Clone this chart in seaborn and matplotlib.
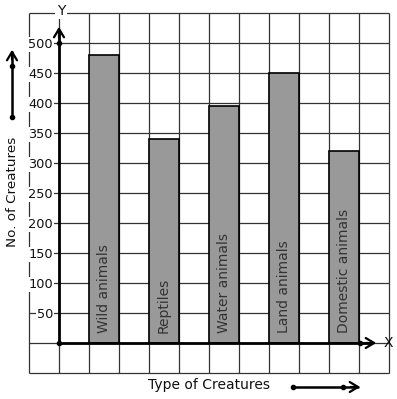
import numpy as np
import pandas as pd
import seaborn as sns
import matplotlib
matplotlib.use("Agg")
import matplotlib.pyplot as plt

# ---- data ----
categories = ["Wild animals", "Reptiles", "Water animals", "Land animals", "Domestic animals"]
values = [480, 340, 395, 450, 320]
ytick_values = [50, 100, 150, 200, 250, 300, 350, 400, 450, 500]
ytick_labels = ["50", "100", "150", "200", "250", "300", "350", "400", "450", "500"]
x_label = "Type of Creatures"
y_label = "No. of Creatures"

sns.set_theme(style="white")
plt.rcParams['font.family'] = ['DejaVu Sans']

W, H = 397, 399
fig = plt.figure(figsize=(W / 100, H / 100), dpi=100)
ax = fig.add_axes([0, 0, 1, 1])

# pixel -> data mapping: cell = 30 px, 1 x-unit per cell, 50 y-units per cell
OX, OY = 59, 343
def px_x(p):
    return (p - OX) / 30.0
def px_y(p):
    return (OY - p) / 30.0 * 50.0

# grid (limited)
gx0, gx1 = px_x(29), px_x(389)
gy0, gy1 = px_y(373), px_y(13)
grid_c = "#333333"
for i in range(13):
    ax.vlines(-1 + i, gy0, gy1, colors=grid_c, lw=0.9, zorder=1)
for j in range(13):
    ax.hlines(-50 + 50 * j, gx0, gx1, colors=grid_c, lw=0.9, zorder=1)

# bars
positions = 1.5 + 2 * np.arange(len(categories))
df = pd.DataFrame({"pos": positions, "val": values, "cat": categories})
sns.barplot(data=df, x="pos", y="val", native_scale=True, width=0.5,
            color="#999999", saturation=1, edgecolor="black", linewidth=1.2,
            ax=ax, zorder=3, errorbar=None)
ax.set_xlim(px_x(0), px_x(W))
ax.set_ylim(px_y(H), px_y(0))

for p, c in zip(positions, categories):
    ax.text(p, px_y(333), c, rotation=90, ha="center", va="bottom",
            fontsize=10, color="#333333", zorder=4)

# y tick labels inside the figure
ax.set_yticks(ytick_values)
ax.set_yticklabels(ytick_labels)
ax.tick_params(axis="y", length=0, pad=-(53 * 0.72), labelsize=9.3, labelcolor="#111111")
for lab in ax.get_yticklabels():
    lab.set_horizontalalignment("right")
    lab.set_bbox(dict(facecolor="white", edgecolor="none", pad=0.5))
ax.set_xticks([])
ax.set_axisbelow(False)
for s in ax.spines.values():
    s.set_visible(False)
ax.set_xlabel("")
ax.set_ylabel("")

# axes with arrows
ax.plot([0, 0], [0, px_y(30)], color="black", lw=2, zorder=5, solid_capstyle="butt")
ax.annotate("", xy=(0, px_y(24)), xytext=(0, px_y(40)),
            arrowprops=dict(arrowstyle="->,head_length=0.5,head_width=0.3", lw=1.6, color="black"),
            zorder=6)
ax.plot([0, px_x(372)], [0, 0], color="black", lw=2, zorder=5, solid_capstyle="butt")
ax.annotate("", xy=(px_x(379), 0), xytext=(px_x(362), 0),
            arrowprops=dict(arrowstyle="->,head_length=0.5,head_width=0.3", lw=1.6, color="black"),
            zorder=6)
ax.plot([0, 0, px_x(360)], [0, 500, 0], "o", color="black", ms=3, zorder=7)

ax.text(px_x(61), px_y(11), "Y", ha="center", va="center", fontsize=10, color="#111111",
        bbox=dict(facecolor="white", edgecolor="none", pad=1), zorder=6)
ax.text(px_x(388), px_y(343), "X", ha="center", va="center", fontsize=10, color="#111111", zorder=6)

# axis titles
ax.text(px_x(13), px_y(192), y_label, rotation=90, ha="center", va="center",
        fontsize=9.7, color="#111111")
ax.text(px_x(209), px_y(385), x_label, ha="center", va="center",
        fontsize=10, color="#111111")

# decorative arrows next to titles
ax.plot([px_x(12), px_x(12)], [px_y(117), px_y(52)], color="black", lw=1.8)
ax.annotate("", xy=(px_x(12), px_y(47)), xytext=(px_x(12), px_y(62)),
            arrowprops=dict(arrowstyle="->,head_length=0.5,head_width=0.3", lw=1.6, color="black"))
ax.plot([px_x(12), px_x(12)], [px_y(117), px_y(66)], "o", color="black", ms=3)

ax.plot([px_x(293), px_x(358)], [px_y(387), px_y(387)], color="black", lw=1.8)
ax.annotate("", xy=(px_x(363), px_y(387)), xytext=(px_x(348), px_y(387)),
            arrowprops=dict(arrowstyle="->,head_length=0.5,head_width=0.3", lw=1.6, color="black"))
ax.plot([px_x(293), px_x(343)], [px_y(387), px_y(387)], "o", color="black", ms=3)

fig.savefig("out.png", dpi=100, facecolor="white")
